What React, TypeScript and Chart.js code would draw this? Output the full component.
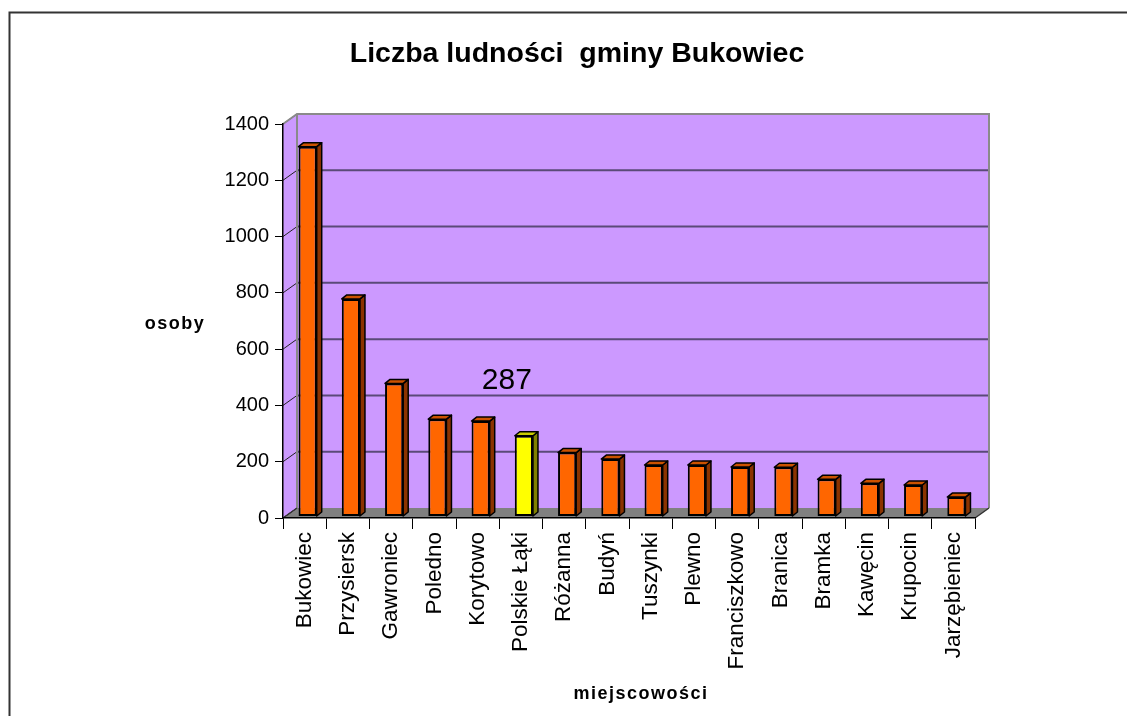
import React, { useEffect, useRef } from 'react';
import { Chart, registerables } from 'chart.js';

Chart.register(...registerables);

// ---- data ----
const categories = [
  'Bukowiec', 'Przysiersk', 'Gawroniec', 'Poledno', 'Korytowo', 'Polskie Łąki',
  'Różanna', 'Budyń', 'Tuszynki', 'Plewno', 'Franciszkowo', 'Branica',
  'Bramka', 'Kawęcin', 'Krupocin', 'Jarzębieniec',
];
const population = [1314, 773, 473, 346, 339, 287, 227, 204, 183, 183, 176, 175, 132, 118, 112, 69];
const yTickValues = [0, 200, 400, 600, 800, 1000, 1200, 1400];
const highlightIndex = 5;
const highlightLabel = '287';
const chartTitle = 'Liczba ludności  gminy Bukowiec';
const yAxisTitle = 'osoby';
const xAxisTitle = 'miejscowości';

// ---- style ----
const FONT = '"Liberation Sans", Arial, sans-serif';
const WALL = '#CC99FF';
const FLOOR = '#808080';
const EDGE = '#8a8a8a';
const GRID = '#5a4a78';
const ORANGE = { front: '#FF6600', side: '#8B3300', top: '#CC5200' };
const YELLOW = { front: '#FFFF00', side: '#808000', top: '#CCCC00' };
const WALL_DX = 14;
const WALL_DY = -10;
const BAR_DX = 5;
const BAR_DY = -4;
const BAR_SHIFT_X = 3;
const BAR_SHIFT_Y = -1.5;

const scenePlugin = {
  id: 'scene3d',
  beforeDraw(chart: any) {
    const { ctx, chartArea } = chart;
    const { left, right, top, bottom } = chartArea;
    const yScale = chart.scales.y;
    ctx.save();
    ctx.fillStyle = '#ffffff';
    ctx.fillRect(0, 0, chart.width, chart.height);

    // outer frame
    ctx.strokeStyle = '#333333';
    ctx.lineWidth = 2;
    ctx.beginPath();
    ctx.moveTo(9.5, chart.height + 2);
    ctx.lineTo(9.5, 12.5);
    ctx.lineTo(chart.width + 2, 12.5);
    ctx.stroke();

    // title
    ctx.fillStyle = '#000';
    ctx.textAlign = 'center';
    ctx.textBaseline = 'alphabetic';
    ctx.font = `bold 28.5px ${FONT}`;
    ctx.fillText(chartTitle, 577, 62);

    // axis titles
    ctx.font = `bold 18px ${FONT}`;
    (ctx as any).letterSpacing = '1.5px';
    ctx.fillText(yAxisTitle, 175, 329);
    ctx.fillText(xAxisTitle, 641, 699);
    (ctx as any).letterSpacing = '0px';

    // back wall
    ctx.fillStyle = WALL;
    ctx.fillRect(left + WALL_DX, top + WALL_DY, right - left, bottom - top);
    // left wall
    ctx.beginPath();
    ctx.moveTo(left, top);
    ctx.lineTo(left + WALL_DX, top + WALL_DY);
    ctx.lineTo(left + WALL_DX, bottom + WALL_DY);
    ctx.lineTo(left, bottom);
    ctx.closePath();
    ctx.fill();
    // floor
    ctx.fillStyle = FLOOR;
    ctx.beginPath();
    ctx.moveTo(left, bottom);
    ctx.lineTo(left + WALL_DX, bottom + WALL_DY);
    ctx.lineTo(right + WALL_DX, bottom + WALL_DY);
    ctx.lineTo(right, bottom);
    ctx.closePath();
    ctx.fill();

    // back wall grid lines and left wall connectors
    yTickValues.forEach((v) => {
      const py = yScale.getPixelForValue(v);
      if (v > 0 && v < yTickValues[yTickValues.length - 1]) {
        ctx.strokeStyle = GRID;
        ctx.lineWidth = 2;
        ctx.beginPath();
        ctx.moveTo(left + WALL_DX, py + WALL_DY);
        ctx.lineTo(right + WALL_DX, py + WALL_DY);
        ctx.stroke();
      }
      ctx.strokeStyle = '#222';
      ctx.lineWidth = 1;
      ctx.beginPath();
      ctx.moveTo(left, py);
      ctx.lineTo(left + WALL_DX, py + WALL_DY);
      ctx.stroke();
    });

    // wall edges
    ctx.strokeStyle = EDGE;
    ctx.lineWidth = 2;
    ctx.beginPath();
    ctx.moveTo(left, top);
    ctx.lineTo(left + WALL_DX, top + WALL_DY);
    ctx.lineTo(right + WALL_DX, top + WALL_DY);
    ctx.lineTo(right + WALL_DX, bottom + WALL_DY);
    ctx.moveTo(left + WALL_DX, top + WALL_DY);
    ctx.lineTo(left + WALL_DX, bottom + WALL_DY);
    ctx.stroke();
    // floor edges
    ctx.strokeStyle = '#333';
    ctx.lineWidth = 1.5;
    ctx.beginPath();
    ctx.moveTo(left, bottom);
    ctx.lineTo(left + WALL_DX, bottom + WALL_DY);
    ctx.moveTo(right, bottom);
    ctx.lineTo(right + WALL_DX, bottom + WALL_DY);
    ctx.stroke();
    ctx.restore();
  },
  beforeDatasetsDraw(chart: any) {
    chart.ctx.save();
    chart.ctx.translate(BAR_SHIFT_X, BAR_SHIFT_Y);
  },
  afterDatasetsDraw(chart: any) {
    const { ctx } = chart;
    const meta = chart.getDatasetMeta(0);
    meta.data.forEach((el: any, i: number) => {
      const { x, y, base, width } = el.getProps(['x', 'y', 'base', 'width'], true);
      const l = x - width / 2;
      const r = x + width / 2;
      const c = i === highlightIndex ? YELLOW : ORANGE;
      ctx.lineWidth = 1.5;
      ctx.strokeStyle = '#000';
      ctx.lineJoin = 'round';
      // side
      ctx.fillStyle = c.side;
      ctx.beginPath();
      ctx.moveTo(r, y);
      ctx.lineTo(r + BAR_DX, y + BAR_DY);
      ctx.lineTo(r + BAR_DX, base + BAR_DY);
      ctx.lineTo(r, base);
      ctx.closePath();
      ctx.fill();
      ctx.stroke();
      // top
      ctx.fillStyle = c.top;
      ctx.beginPath();
      ctx.moveTo(l, y);
      ctx.lineTo(l + BAR_DX, y + BAR_DY);
      ctx.lineTo(r + BAR_DX, y + BAR_DY);
      ctx.lineTo(r, y);
      ctx.closePath();
      ctx.fill();
      ctx.stroke();
      if (i === highlightIndex) {
        ctx.fillStyle = '#000';
        ctx.font = `30px ${FONT}`;
        ctx.textAlign = 'center';
        ctx.textBaseline = 'alphabetic';
        ctx.fillText(highlightLabel, x - 17, y - 47);
      }
    });
    ctx.restore();
  },
};

export default function App() {
  const canvasRef = useRef<HTMLCanvasElement | null>(null);

  useEffect(() => {
    if (!canvasRef.current) return;
    const Y_W = 70;
    const X_H = 160;
    const chart = new Chart(canvasRef.current, {
      type: 'bar',
      data: {
        labels: categories,
        datasets: [
          {
            data: population,
            backgroundColor: population.map((_, i) => (i === highlightIndex ? YELLOW.front : ORANGE.front)),
            borderColor: '#000',
            borderWidth: 2,
            borderSkipped: false,
            categoryPercentage: 1,
            barPercentage: 0.42,
          },
        ],
      },
      options: {
        responsive: false,
        animation: false,
        devicePixelRatio: 1,
        layout: { padding: { left: 283 - Y_W, top: 124, right: 1127 - 975, bottom: 716 - 518 - X_H } },
        plugins: {
          legend: { display: false },
          title: { display: false },
          tooltip: { enabled: false },
        },
        scales: {
          x: {
            afterFit: (s: any) => { s.height = X_H; },
            grid: { drawOnChartArea: false, drawTicks: true, tickLength: 11, color: '#000', lineWidth: 1 },
            border: { display: true, color: '#000', width: 1.5 },
            ticks: {
              autoSkip: false,
              minRotation: 90,
              maxRotation: 90,
              padding: 3,
              color: '#000',
              font: { family: FONT, size: 22.5 },
            },
          },
          y: {
            min: 0,
            max: 1400,
            afterFit: (s: any) => { s.width = Y_W; },
            afterBuildTicks: (s: any) => { s.ticks = yTickValues.map((v) => ({ value: v })); },
            grid: { drawOnChartArea: false, drawTicks: true, tickLength: 8, color: '#000', lineWidth: 1 },
            border: { display: true, color: '#000', width: 1.5 },
            ticks: {
              padding: 6,
              color: '#000',
              font: { family: FONT, size: 20 },
              callback: (v: any) => String(v),
            },
          },
        },
      },
      plugins: [scenePlugin],
    });
    return () => chart.destroy();
  }, []);

  return (
    <div style={{ position: 'absolute', left: 0, top: 0, width: 1127, height: 716, overflow: 'hidden' }}>
      <canvas ref={canvasRef} width={1127} height={716} style={{ width: 1127, height: 716, display: 'block' }} />
    </div>
  );
}
